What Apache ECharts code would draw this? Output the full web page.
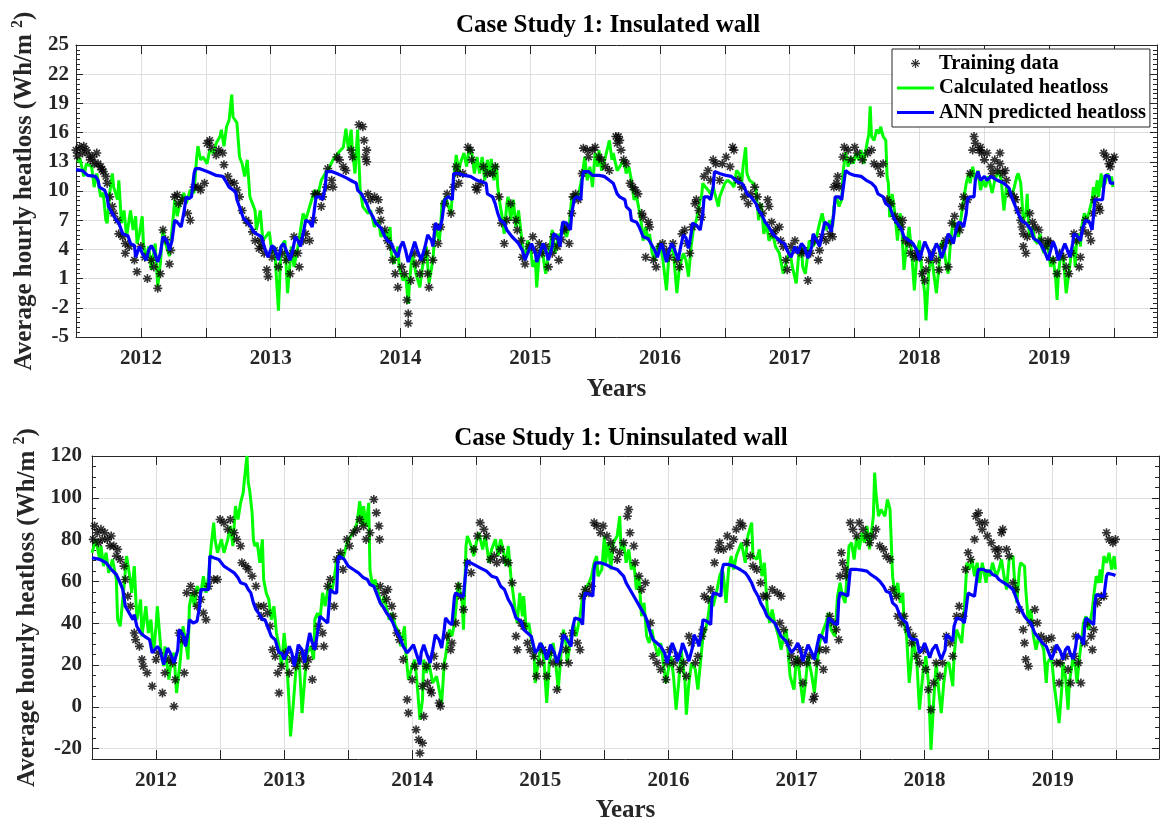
<!DOCTYPE html>
<html>
<head>
<meta charset="utf-8">
<script src="https://cdn.jsdelivr.net/npm/echarts@6/dist/echarts.min.js"></script>
<style>
  html, body { margin: 0; background: #fff; }
  #chart { width: 1165px; height: 820px; }
</style>
</head>
<body>
<div id="chart"></div>
<script>
// ===== tick labels =====
const yearLabels = [2012, 2013, 2014, 2015, 2016, 2017, 2018, 2019];
const halfYearTicks = [2012, 2012.5, 2013, 2013.5, 2014, 2014.5, 2015, 2015.5, 2016, 2016.5, 2017, 2017.5, 2018, 2018.5, 2019, 2019.5];
const insTicks = [-5, -2, 1, 4, 7, 10, 13, 16, 19, 22, 25];
const uninsTicks = [-20, 0, 20, 40, 60, 80, 100, 120];

// ===== Case 1: insulated wall, [year, Wh/m2] =====
const insCalc = [
  [2011.51,13.0],[2011.53,13.4],[2011.56,11.5],[2011.58,12.8],[2011.62,12.5],[2011.64,10.4],[2011.66,11.8],[2011.69,9.4],[2011.71,9.8],[2011.73,7.0],[2011.74,6.7],[2011.76,9.8],[2011.78,11.8],[2011.79,10.4],[2011.82,9.1],[2011.83,11.1],[2011.85,6.7],[2011.87,8.0],[2011.89,5.3],[2011.92,8.0],[2011.94,6.0],[2011.96,7.4],[2011.97,4.6],[2011.99,5.7],[2012.01,7.4],[2012.02,4.6],[2012.04,2.9],[2012.06,4.3],[2012.08,1.9],[2012.11,4.6],[2012.13,0.2],[2012.15,2.6],[2012.17,6.0],[2012.19,4.6],[2012.22,3.3],[2012.25,7.4],[2012.26,9.1],[2012.28,7.4],[2012.30,8.7],[2012.33,9.8],[2012.35,8.7],[2012.38,10.1],[2012.41,9.8],[2012.43,13.5],[2012.44,14.6],[2012.46,13.2],[2012.48,13.5],[2012.51,12.8],[2012.53,14.2],[2012.56,13.9],[2012.58,14.9],[2012.61,15.6],[2012.62,16.3],[2012.64,14.6],[2012.66,16.6],[2012.68,17.3],[2012.70,19.9],[2012.71,17.6],[2012.74,17.0],[2012.76,13.5],[2012.78,12.8],[2012.80,11.5],[2012.82,13.2],[2012.83,13.4],[2012.84,9.4],[2012.86,8.7],[2012.88,8.0],[2012.89,6.0],[2012.92,8.0],
  [2012.94,4.9],[2012.99,5.8],[2013.01,3.6],[2013.03,4.3],[2013.06,-2.3],[2013.08,4.3],[2013.11,4.9],[2013.13,-0.5],[2013.16,4.3],[2013.18,2.2],[2013.21,4.3],[2013.25,7.7],[2013.27,7.0],[2013.30,8.4],[2013.34,10.1],[2013.36,9.4],[2013.39,11.1],[2013.42,11.8],[2013.44,12.1],[2013.48,13.2],[2013.52,13.9],[2013.56,14.5],[2013.58,16.4],[2013.60,14.2],[2013.62,16.3],[2013.63,14.2],[2013.65,11.8],[2013.67,16.3],[2013.69,10.1],[2013.71,8.4],[2013.75,7.7],[2013.77,8.0],[2013.80,6.3],[2013.83,7.0],[2013.85,5.3],[2013.88,6.0],[2013.90,4.9],[2013.92,6.3],[2013.93,3.6],[2013.95,2.5],[2013.98,4.3],[2013.99,2.2],[2014.02,0.8],[2014.04,1.5],[2014.06,-1.6],[2014.07,0.5],[2014.09,3.6],[2014.12,1.5],[2014.15,0.1],[2014.17,2.2],[2014.20,4.3],[2014.22,0.5],[2014.25,2.9],[2014.27,6.3],
  [2014.30,4.9],[2014.31,6.3],[2014.32,8.7],[2014.35,9.4],[2014.37,8.4],[2014.39,7.7],[2014.40,9.8],[2014.41,11.1],[2014.43,13.7],[2014.45,11.8],[2014.46,12.8],[2014.49,13.9],[2014.51,12.5],[2014.53,14.5],[2014.55,13.9],[2014.57,11.8],[2014.59,13.5],[2014.61,11.8],[2014.63,13.5],[2014.65,11.1],[2014.67,13.2],[2014.69,11.5],[2014.70,13.3],[2014.72,11.1],[2014.74,12.8],[2014.75,10.4],[2014.77,8.4],[2014.78,7.7],[2014.80,5.6],[2014.82,8.7],[2014.83,9.4],[2014.85,7.0],[2014.87,9.1],[2014.89,6.3],[2014.91,8.0],[2014.93,5.6],[2014.94,4.3],[2014.96,2.9],[2014.98,4.9],[2015.00,4.3],[2015.02,2.2],[2015.04,2.9],[2015.05,0.1],[2015.07,3.6],[2015.09,4.6],[2015.11,2.2],[2015.12,1.5],[2015.14,3.6],[2015.16,4.9],[2015.17,6.0],[2015.19,3.6],[2015.22,5.6],[2015.23,4.9],[2015.25,6.7],[2015.27,5.6],[2015.28,5.3],[2015.30,6.3],[2015.32,9.4],[2015.34,9.1],[2015.35,9.7],[2015.37,9.4],[2015.40,11.5],[2015.42,13.5],[2015.44,11.1],[2015.46,12.5],[2015.48,10.4],[2015.50,13.9],[2015.52,12.5],[2015.53,14.2],[2015.55,12.1],[2015.58,13.5],[2015.61,15.2],[2015.63,13.2],[2015.64,13.9],[2015.67,12.1],
  [2015.69,12.5],[2015.72,13.2],[2015.74,11.8],[2015.76,12.5],[2015.78,11.1],[2015.80,9.1],[2015.82,9.4],[2015.84,8.0],[2015.86,6.3],[2015.87,4.9],[2015.89,6.3],[2015.91,4.9],[2015.92,5.6],[2015.94,3.6],[2015.96,2.9],[2015.98,4.3],[2016.00,4.6],[2016.02,3.2],[2016.05,-0.2],[2016.07,3.6],[2016.10,4.3],[2016.13,-0.5],[2016.15,2.2],[2016.18,3.6],[2016.20,2.9],[2016.22,1.2],[2016.24,4.3],[2016.26,6.3],[2016.28,7.0],[2016.31,9.1],[2016.32,9.4],[2016.33,10.8],[2016.35,10.4],[2016.37,10.1],[2016.39,9.7],[2016.41,10.4],[2016.43,9.4],[2016.45,8.4],[2016.46,9.4],[2016.48,10.1],[2016.50,10.8],[2016.52,11.1],[2016.55,10.8],[2016.57,10.4],[2016.59,12.1],[2016.61,11.8],[2016.63,10.8],[2016.64,12.5],[2016.66,14.5],[2016.67,11.8],[2016.69,11.1],[2016.72,10.8],[2016.74,10.1],[2016.76,7.0],[2016.78,8.7],[2016.80,5.6],[2016.82,6.7],[2016.84,4.9],[2016.87,5.6],[2016.89,4.3],[2016.92,3.6],[2016.95,1.5],[2016.97,2.5],[2017.00,3.9],[2017.02,2.2],[2017.05,0.5],
  [2017.07,3.6],[2017.09,4.3],[2017.10,2.2],[2017.12,1.5],[2017.14,3.6],[2017.15,4.9],[2017.18,4.3],[2017.20,4.9],[2017.23,6.7],[2017.25,7.7],[2017.27,6.3],[2017.28,6.0],[2017.31,7.0],[2017.33,6.3],[2017.34,8.4],[2017.36,9.4],[2017.38,8.4],[2017.40,9.1],[2017.41,11.8],[2017.43,14.0],[2017.45,12.5],[2017.47,13.5],[2017.49,12.8],[2017.51,13.9],[2017.53,13.2],[2017.55,14.2],[2017.57,12.8],[2017.59,14.5],[2017.61,15.9],[2017.62,18.7],[2017.63,15.6],[2017.65,15.2],[2017.67,16.3],[2017.69,15.9],[2017.70,16.6],[2017.72,15.6],[2017.74,15.2],[2017.75,11.5],[2017.76,10.8],[2017.77,7.3],[2017.79,9.7],[2017.81,7.7],[2017.83,4.9],[2017.85,7.7],[2017.86,7.0],[2017.88,1.9],[2017.90,4.3],[2017.92,6.3],[2017.94,3.6],[2017.96,-0.2],[2017.98,3.6],[2018.00,4.9],[2018.02,1.5],[2018.04,-0.5],[2018.05,-3.3],[2018.07,1.5],[2018.09,3.6],[2018.11,1.5],[2018.13,-0.5],[2018.15,2.2],[2018.16,4.3],[2018.18,4.9],[2018.20,2.9],[2018.22,1.5],[2018.24,4.9],[2018.26,7.0],[2018.28,6.3],[2018.30,5.3],[2018.32,7.3],[2018.34,9.1],[2018.36,10.8],[2018.38,11.8],[2018.39,10.8],[2018.41,12.5],[2018.43,11.1],[2018.45,12.1],
  [2018.47,10.1],[2018.49,11.1],[2018.51,10.4],[2018.53,11.5],[2018.56,9.8],[2018.58,11.1],[2018.61,12.1],[2018.63,11.1],[2018.65,8.0],[2018.67,10.4],[2018.69,9.7],[2018.71,9.4],[2018.73,10.4],[2018.75,11.5],[2018.76,11.8],[2018.78,10.8],[2018.80,7.0],[2018.82,7.7],[2018.83,9.7],[2018.84,6.3],[2018.85,5.3],[2018.87,6.3],[2018.89,4.9],[2018.91,4.6],[2018.93,5.6],[2018.94,4.3],[2018.96,3.6],[2018.98,4.9],[2018.99,4.3],[2019.01,2.2],[2019.03,3.2],[2019.05,0.8],[2019.06,-1.2],[2019.07,1.5],[2019.09,3.6],[2019.11,2.9],[2019.13,-0.5],[2019.15,1.5],[2019.17,3.6],[2019.19,4.3],[2019.20,2.2],[2019.21,4.9],[2019.23,5.6],[2019.24,4.3],[2019.25,6.3],[2019.27,7.7],[2019.29,7.0],[2019.31,8.0],[2019.33,9.1],[2019.34,10.4],[2019.35,9.4],[2019.37,11.1],[2019.38,9.4],[2019.40,11.8],[2019.41,10.4],[2019.43,10.8],[2019.45,11.8],[2019.47,11.1],[2019.48,11.5],[2019.49,10.4]
];
const insAnn = [
  [2011.50,12.2],[2011.55,12.1],[2011.59,11.6],[2011.65,11.5],[2011.67,11.1],[2011.68,10.4],[2011.72,10.1],[2011.74,9.4],[2011.75,8.4],[2011.78,7.7],[2011.81,7.0],[2011.83,6.7],[2011.86,5.6],[2011.90,5.4],[2011.92,4.6],[2011.95,4.4],[2011.96,3.2],[2011.99,4.3],[2012.01,3.6],[2012.04,2.9],[2012.06,3.9],[2012.08,4.4],[2012.10,3.9],[2012.13,2.7],[2012.15,3.6],[2012.17,5.3],[2012.20,4.9],[2012.22,3.9],[2012.24,4.9],[2012.26,7.0],[2012.28,6.8],[2012.31,6.3],[2012.33,7.7],[2012.35,9.4],[2012.37,9.2],[2012.39,9.4],[2012.41,11.8],[2012.42,12.3],[2012.45,12.3],[2012.49,12.1],[2012.53,11.9],[2012.58,11.6],[2012.63,11.5],[2012.65,11.1],[2012.68,10.4],[2012.71,10.1],[2012.73,9.9],[2012.74,9.1],[2012.77,8.0],[2012.79,7.2],[2012.82,6.8],[2012.85,6.3],[2012.87,5.8],
  [2012.89,5.6],[2012.93,5.3],[2012.95,4.3],[2012.98,3.2],[2013.01,4.4],[2013.03,4.1],[2013.06,2.9],[2013.08,4.3],[2013.10,4.6],[2013.12,3.9],[2013.15,2.9],[2013.17,3.9],[2013.19,5.3],[2013.21,4.9],[2013.23,4.3],[2013.25,5.6],[2013.27,7.0],[2013.30,6.8],[2013.32,6.3],[2013.34,8.4],[2013.35,9.4],[2013.38,9.4],[2013.40,9.1],[2013.42,10.4],[2013.43,12.0],[2013.47,12.0],[2013.51,11.8],[2013.56,11.5],[2013.59,11.3],[2013.63,11.0],[2013.66,10.8],[2013.67,10.1],[2013.70,9.7],[2013.74,8.7],[2013.76,8.0],[2013.79,7.3],[2013.81,6.7],[2013.85,6.2],[2013.88,5.3],[2013.90,4.9],[2013.93,4.6],[2013.95,3.9],[2013.98,3.2],[2014.00,4.3],[2014.02,4.8],[2014.04,3.9],[2014.06,2.7],[2014.09,3.9],[2014.11,4.8],[2014.13,3.9],[2014.16,2.9],[2014.19,4.3],[2014.21,5.5],[2014.24,4.9],[2014.25,4.3],[2014.27,6.7],
  [2014.30,6.0],[2014.32,7.0],[2014.34,9.1],[2014.37,9.4],[2014.40,9.1],[2014.41,11.8],[2014.45,11.8],[2014.49,11.6],[2014.54,11.5],[2014.59,11.1],[2014.66,10.8],[2014.67,9.7],[2014.71,9.4],[2014.73,8.7],[2014.75,7.7],[2014.77,7.0],[2014.80,6.7],[2014.82,6.0],[2014.86,5.3],[2014.89,4.9],[2014.91,4.6],[2014.94,3.9],[2014.96,2.9],[2014.98,3.6],[2015.01,4.6],[2015.04,3.6],[2015.05,2.7],[2015.08,3.9],[2015.10,4.6],[2015.12,3.9],[2015.14,2.9],[2015.17,4.3],[2015.18,5.6],[2015.21,5.3],[2015.23,4.3],[2015.24,5.6],[2015.25,6.8],[2015.28,6.7],[2015.31,6.0],[2015.32,7.7],[2015.34,9.2],[2015.36,9.4],[2015.39,9.1],[2015.40,11.1],[2015.41,12.0],[2015.45,12.0],[2015.48,11.6],[2015.53,11.6],[2015.57,11.5],[2015.61,11.1],[2015.64,10.8],[2015.67,9.7],
  [2015.69,9.4],[2015.73,9.1],[2015.74,8.4],[2015.77,8.0],[2015.78,7.0],[2015.82,6.8],[2015.84,6.3],[2015.87,5.3],[2015.91,5.1],[2015.93,4.6],[2015.96,3.9],[2015.98,3.2],[2016.01,4.6],[2016.02,4.3],[2016.05,2.7],[2016.07,3.9],[2016.09,4.6],[2016.11,4.1],[2016.14,2.9],[2016.16,4.3],[2016.18,5.5],[2016.20,5.2],[2016.22,4.1],[2016.24,5.6],[2016.25,6.7],[2016.28,6.5],[2016.31,6.0],[2016.33,7.7],[2016.34,9.4],[2016.37,9.4],[2016.39,9.1],[2016.41,10.4],[2016.42,12.0],[2016.46,11.8],[2016.51,11.6],[2016.55,11.5],[2016.60,10.9],[2016.63,10.8],[2016.65,10.4],[2016.67,9.7],[2016.70,9.4],[2016.74,8.7],[2016.76,8.0],[2016.78,7.7],[2016.81,6.8],[2016.83,6.5],[2016.87,5.6],[2016.89,5.3],[2016.93,4.8],[2016.96,4.6],[2016.98,3.9],[2017.01,3.2],[2017.04,4.3],[2017.06,3.6],
  [2017.09,4.6],[2017.11,4.3],[2017.14,3.1],[2017.17,4.3],[2017.18,5.6],[2017.21,4.9],[2017.23,4.3],[2017.25,5.6],[2017.27,6.8],[2017.30,6.5],[2017.32,5.8],[2017.34,7.7],[2017.35,9.4],[2017.38,9.4],[2017.40,9.1],[2017.42,11.1],[2017.43,12.1],[2017.46,11.8],[2017.50,11.6],[2017.55,11.5],[2017.59,11.1],[2017.63,10.8],[2017.66,10.4],[2017.68,9.7],[2017.72,9.4],[2017.74,8.7],[2017.77,8.4],[2017.80,7.3],[2017.82,6.8],[2017.86,6.1],[2017.88,5.3],[2017.92,4.9],[2017.95,4.6],[2017.98,3.9],[2018.00,2.9],[2018.02,3.9],[2018.04,4.8],[2018.07,3.9],[2018.09,2.9],[2018.11,3.9],[2018.13,4.6],[2018.15,4.1],[2018.17,3.1],[2018.20,4.3],[2018.22,5.6],[2018.24,5.3],[2018.26,4.6],[2018.28,5.9],[2018.30,6.8],[2018.32,6.7],[2018.34,6.3],[2018.36,7.7],[2018.37,9.2],[2018.39,9.4],[2018.42,9.4],[2018.43,11.1],[2018.45,12.0],
  [2018.47,11.1],[2018.50,11.5],[2018.52,11.1],[2018.55,11.5],[2018.60,11.1],[2018.65,10.8],[2018.69,10.3],[2018.71,9.4],[2018.73,8.7],[2018.76,7.7],[2018.79,6.9],[2018.82,6.7],[2018.86,6.0],[2018.88,5.1],[2018.92,4.8],[2018.94,4.4],[2018.97,3.6],[2018.99,2.9],[2019.01,3.9],[2019.03,4.8],[2019.05,4.1],[2019.07,2.9],[2019.10,3.9],[2019.12,4.6],[2019.14,3.9],[2019.16,3.2],[2019.18,4.6],[2019.19,5.6],[2019.22,5.3],[2019.24,4.9],[2019.26,6.3],[2019.28,7.0],[2019.31,6.8],[2019.33,6.0],[2019.34,7.4],[2019.35,9.1],[2019.38,9.1],[2019.41,9.1],[2019.42,10.4],[2019.43,11.6],[2019.46,11.5],[2019.47,10.8],[2019.50,10.8]
];
const insTrain = [
  [2011.50,14.2],[2011.51,13.6],[2011.53,14.5],[2011.55,13.9],[2011.56,14.6],[2011.58,14.2],[2011.60,13.7],[2011.61,13.2],[2011.63,13.5],[2011.64,12.8],[2011.66,13.9],[2011.67,12.8],[2011.69,12.5],[2011.70,12.2],[2011.71,12.0],[2011.73,11.5],[2011.74,10.8],[2011.76,9.4],[2011.78,8.4],[2011.79,7.7],[2011.82,7.0],[2011.83,5.6],[2011.86,5.3],[2011.88,4.6],[2011.88,3.6],[2011.91,4.3],[2011.95,2.9],[2011.97,1.7],[2012.00,4.3],[2012.03,3.2],[2012.05,1.0],[2012.08,2.9],[2012.10,2.2],[2012.13,0.0],[2012.15,1.5],[2012.17,6.0],[2012.19,5.0],[2012.22,2.5],[2012.23,3.9],[2012.26,9.4],[2012.28,9.6],[2012.29,8.7],[2012.32,9.1],[2012.36,7.7],[2012.38,7.0],[2012.41,10.4],[2012.44,10.4],[2012.46,10.1],[2012.49,10.8],[2012.51,14.9],[2012.53,15.2],[2012.54,14.5],[2012.58,13.7],[2012.60,14.2],[2012.63,13.9],[2012.64,12.7],[2012.67,11.5],[2012.69,10.9],[2012.72,10.8],[2012.74,10.1],[2012.76,9.4],[2012.78,8.0],[2012.81,7.0],[2012.83,6.7],[2012.86,5.8],[2012.88,4.9],[2012.91,4.1],
  [2012.92,4.9],[2012.93,4.3],[2012.95,3.6],[2012.97,1.9],[2012.98,1.2],[2013.01,3.2],[2013.03,3.9],[2013.06,2.2],[2013.09,3.6],[2013.12,2.9],[2013.15,1.5],[2013.17,3.6],[2013.18,5.3],[2013.21,3.6],[2013.22,2.2],[2013.25,4.9],[2013.27,5.6],[2013.30,4.9],[2013.33,7.0],[2013.34,9.7],[2013.36,9.7],[2013.39,8.4],[2013.40,9.4],[2013.43,10.4],[2013.44,12.3],[2013.47,11.1],[2013.48,10.4],[2013.51,13.5],[2013.53,13.2],[2013.56,12.5],[2013.58,12.1],[2013.62,14.2],[2013.63,13.5],[2013.68,16.8],[2013.71,16.6],[2013.72,15.2],[2013.73,13.5],[2013.74,14.2],[2013.74,13.0],[2013.75,9.7],[2013.77,9.1],[2013.80,9.4],[2013.83,9.1],[2013.84,8.0],[2013.85,7.0],[2013.88,6.0],[2013.90,4.9],[2013.92,4.3],[2013.94,2.9],[2013.96,1.5],[2013.98,0.1],[2014.01,2.2],[2014.03,1.5],[2014.05,-1.2],[2014.06,-2.6],[2014.06,-3.6],[2014.08,0.8],[2014.11,3.6],[2014.12,2.5],[2014.15,1.5],[2014.17,2.9],[2014.20,3.6],[2014.21,1.5],[2014.22,0.1],[2014.25,2.9],[2014.27,6.3],
  [2014.29,4.6],[2014.31,6.3],[2014.34,8.7],[2014.36,9.7],[2014.39,7.7],[2014.41,10.4],[2014.43,12.5],[2014.44,11.8],[2014.45,10.8],[2014.48,11.8],[2014.52,14.5],[2014.54,14.2],[2014.55,13.2],[2014.58,10.4],[2014.59,10.1],[2014.62,10.8],[2014.64,12.5],[2014.67,11.8],[2014.71,11.8],[2014.73,12.5],[2014.76,9.4],[2014.78,6.7],[2014.80,4.6],[2014.82,7.0],[2014.85,8.7],[2014.89,7.0],[2014.90,6.0],[2014.93,4.9],[2014.94,3.2],[2014.96,2.5],[2014.99,4.3],[2015.02,5.3],[2015.04,3.9],[2015.07,4.6],[2015.09,3.6],[2015.12,4.3],[2015.14,2.2],[2015.17,3.6],[2015.18,5.3],[2015.21,4.3],[2015.22,2.9],[2015.24,5.0],[2015.26,6.0],[2015.28,6.3],[2015.30,4.6],[2015.32,7.7],[2015.33,9.4],[2015.35,9.7],[2015.37,9.1],[2015.40,11.8],[2015.41,14.4],[2015.44,14.2],[2015.45,13.5],[2015.48,14.2],[2015.50,14.5],[2015.53,13.5],[2015.55,13.2],[2015.58,12.5],[2015.61,12.1],[2015.66,15.6],[2015.67,14.9],
  [2015.68,15.6],[2015.69,15.2],[2015.70,14.2],[2015.72,13.2],[2015.74,12.8],[2015.77,10.8],[2015.79,10.4],[2015.81,10.1],[2015.83,9.7],[2015.86,7.7],[2015.87,7.3],[2015.89,3.2],[2015.91,6.8],[2015.92,6.3],[2015.95,2.9],[2015.97,2.2],[2016.00,4.3],[2016.02,4.6],[2016.05,3.9],[2016.07,3.2],[2016.10,4.6],[2016.13,2.9],[2016.15,2.2],[2016.17,5.6],[2016.19,6.0],[2016.21,4.6],[2016.23,3.6],[2016.25,6.3],[2016.27,8.7],[2016.28,9.1],[2016.30,8.0],[2016.32,7.3],[2016.34,11.5],[2016.37,12.1],[2016.39,11.1],[2016.41,13.2],[2016.43,12.8],[2016.46,11.1],[2016.48,12.8],[2016.51,13.5],[2016.54,12.5],[2016.56,14.5],[2016.57,14.2],[2016.60,11.1],[2016.63,10.4],[2016.65,9.4],[2016.68,8.7],[2016.70,9.7],[2016.73,10.4],[2016.75,9.4],[2016.77,8.4],[2016.79,7.7],[2016.83,9.1],[2016.84,8.4],[2016.86,6.8],[2016.87,5.6],[2016.89,6.0],[2016.92,6.3],[2016.93,4.9],[2016.95,4.3],[2016.97,2.9],[2016.98,1.9],[2017.01,4.3],[2017.04,4.9],[2017.06,3.9],
  [2017.09,3.6],[2017.11,3.9],[2017.14,0.8],[2017.16,3.6],[2017.19,4.9],[2017.22,2.9],[2017.23,3.9],[2017.25,5.3],[2017.28,4.9],[2017.31,5.6],[2017.33,5.3],[2017.34,10.4],[2017.36,10.8],[2017.37,11.5],[2017.38,10.4],[2017.41,13.5],[2017.42,14.5],[2017.45,14.2],[2017.47,13.2],[2017.50,14.5],[2017.52,13.9],[2017.56,13.2],[2017.60,13.9],[2017.63,14.2],[2017.65,12.8],[2017.68,12.5],[2017.70,11.8],[2017.72,12.8],[2017.75,9.1],[2017.78,8.7],[2017.81,7.4],[2017.83,7.0],[2017.86,6.3],[2017.87,7.0],[2017.89,4.9],[2017.92,4.6],[2017.93,3.6],[2017.96,3.2],[2017.98,3.6],[2018.00,3.2],[2018.02,1.5],[2018.04,0.8],[2018.05,1.9],[2018.07,2.9],[2018.10,3.6],[2018.13,2.9],[2018.15,1.9],[2018.18,4.3],[2018.20,4.9],[2018.22,2.2],[2018.24,4.9],[2018.25,6.7],[2018.27,7.4],[2018.29,6.3],[2018.31,6.0],[2018.33,8.4],[2018.34,9.4],[2018.37,9.1],[2018.39,11.8],[2018.41,14.2],[2018.42,15.6],[2018.43,14.9],[2018.46,14.2],
  [2018.47,14.5],[2018.48,13.9],[2018.50,13.2],[2018.52,13.9],[2018.55,12.5],[2018.56,11.8],[2018.58,13.2],[2018.60,12.1],[2018.62,13.9],[2018.62,12.8],[2018.64,11.8],[2018.66,12.1],[2018.67,11.1],[2018.70,9.7],[2018.73,9.4],[2018.74,9.1],[2018.76,8.0],[2018.78,7.0],[2018.79,6.3],[2018.80,5.6],[2018.80,4.3],[2018.82,3.6],[2018.83,5.3],[2018.85,7.7],[2018.87,6.8],[2018.89,6.3],[2018.92,6.0],[2018.94,4.9],[2018.97,4.3],[2018.99,4.9],[2019.01,4.6],[2019.03,2.9],[2019.06,1.5],[2019.08,3.6],[2019.11,3.2],[2019.13,2.2],[2019.15,1.5],[2019.17,3.6],[2019.19,5.6],[2019.21,4.9],[2019.23,2.2],[2019.24,3.2],[2019.26,6.0],[2019.28,7.0],[2019.30,5.6],[2019.32,4.9],[2019.34,7.7],[2019.35,9.1],[2019.38,8.4],[2019.39,8.0],[2019.42,13.9],[2019.44,13.5],[2019.46,12.8],[2019.47,12.5],[2019.49,13.2],[2019.50,13.5]
];

// ===== Case 1: uninsulated wall, [year, Wh/m2] =====
const uninsCalc = [
  [2011.50,73.7],[2011.53,80.1],[2011.56,70.5],[2011.57,76.9],[2011.59,67.3],[2011.61,73.7],[2011.63,64.1],[2011.66,70.5],[2011.69,60.9],[2011.70,41.7],[2011.72,38.5],[2011.75,57.7],[2011.77,72.1],[2011.79,64.1],[2011.81,54.5],[2011.83,67.3],[2011.85,41.7],[2011.88,51.3],[2011.89,33.7],[2011.92,48.1],[2011.94,35.3],[2011.96,41.7],[2011.98,25.8],[2012.00,38.5],[2012.01,48.1],[2012.04,25.8],[2012.06,19.4],[2012.07,28.9],[2012.10,13.0],[2012.12,22.6],[2012.14,25.8],[2012.16,6.6],[2012.19,22.6],[2012.21,38.5],[2012.23,32.1],[2012.25,22.6],[2012.26,48.1],[2012.28,54.5],[2012.30,48.1],[2012.32,57.7],[2012.35,54.5],[2012.37,62.5],[2012.39,54.5],[2012.41,62.5],[2012.43,76.9],[2012.45,88.1],[2012.46,80.1],[2012.48,73.7],[2012.51,80.1],[2012.53,73.7],[2012.56,80.1],[2012.58,86.5],[2012.60,76.9],[2012.62,96.0],[2012.64,89.6],[2012.66,97.6],[2012.68,102.4],[2012.69,108.8],[2012.71,120.0],[2012.72,107.2],[2012.73,104.0],[2012.75,92.8],[2012.76,80.1],[2012.77,76.9],[2012.79,78.5],[2012.81,68.9],[2012.83,80.1],[2012.84,60.9],[2012.86,54.5],[2012.88,51.3],[2012.90,41.7],[2012.92,48.1],[2012.94,35.3],[2012.96,28.9],[2012.98,19.4],[2013.00,35.3],[2013.02,22.6],[2013.04,0.2],[2013.05,-14.2],[2013.07,0.2],[2013.09,16.2],[2013.11,25.8],[2013.12,19.4],[2013.14,-3.0],[2013.16,13.0],[2013.18,25.8],[2013.21,28.9],[2013.23,22.6],[2013.24,41.7],[2013.26,44.9],[2013.28,41.7],[2013.30,54.5],[2013.32,48.1],[2013.35,59.3],[2013.37,54.5],[2013.39,60.9],[2013.41,70.5],[2013.44,73.7],[2013.46,70.5],[2013.49,78.5],[2013.52,81.7],[2013.54,83.3],[2013.55,84.9],[2013.57,88.1],[2013.59,98.4],[2013.61,86.5],[2013.62,96.0],[2013.64,86.5],[2013.66,97.6],[2013.67,65.7],[2013.69,57.7],[2013.71,60.9],[2013.73,56.1],[2013.76,48.1],[2013.78,52.9],[2013.82,41.7],[2013.84,44.9],[2013.87,38.5],[2013.90,35.3],[2013.91,28.9],[2013.94,38.5],[2013.95,25.8],[2013.97,13.0],[2014.00,19.4],[2014.02,22.6],[2014.04,9.8],[2014.06,-6.2],[2014.08,3.4],[2014.09,22.6],[2014.11,16.2],[2014.13,21.0],[2014.16,11.4],[2014.19,14.6],
  [2014.21,8.2],[2014.23,1.8],[2014.25,21.0],[2014.26,24.2],[2014.29,36.9],[2014.31,33.7],[2014.33,40.1],[2014.35,52.9],[2014.36,59.3],[2014.39,49.7],[2014.40,36.9],[2014.42,76.9],[2014.43,81.7],[2014.46,76.9],[2014.48,72.1],[2014.50,78.5],[2014.52,83.3],[2014.55,75.3],[2014.57,81.7],[2014.60,68.9],[2014.62,75.3],[2014.65,80.1],[2014.67,72.1],[2014.69,80.1],[2014.71,75.3],[2014.73,67.3],[2014.75,76.9],[2014.77,62.5],[2014.79,52.9],[2014.81,43.3],[2014.82,40.1],[2014.84,54.5],[2014.86,43.3],[2014.87,52.9],[2014.89,36.9],[2014.91,40.1],[2014.93,32.1],[2014.95,27.3],[2014.96,11.4],[2014.99,24.2],[2015.01,30.5],[2015.03,21.0],[2015.05,1.8],[2015.07,21.0],[2015.10,30.5],[2015.12,21.0],[2015.14,8.2],[2015.16,24.2],[2015.18,36.9],[2015.20,30.5],[2015.21,21.0],[2015.24,33.7],[2015.26,40.1],[2015.28,33.7],[2015.31,43.3],[2015.33,52.9],[2015.35,56.1],[2015.38,59.3],[2015.40,62.5],[2015.42,68.9],[2015.44,72.1],[2015.45,62.5],[2015.48,65.7],[2015.50,81.7],[2015.51,68.9],[2015.53,78.5],[2015.55,65.7],[2015.57,78.5],[2015.60,81.7],[2015.62,91.2],[2015.63,75.3],[2015.65,78.5],[2015.67,68.9],[2015.69,75.3],[2015.71,65.7],[2015.73,68.9],[2015.75,56.1],[2015.77,62.5],[2015.79,43.3],[2015.81,49.7],[2015.83,33.7],[2015.85,30.5],[2015.87,36.9],[2015.89,30.5],[2015.92,24.2],[2015.94,30.5],[2015.96,21.0],[2015.98,11.4],[2016.00,17.8],[2016.02,24.2],[2016.04,14.6],[2016.06,-1.4],[2016.08,11.4],[2016.10,27.3],[2016.13,11.4],[2016.14,-3.8],[2016.16,11.4],[2016.18,21.0],[2016.21,17.8],[2016.23,8.2],[2016.25,21.0],[2016.27,33.7],[2016.29,36.9],[2016.31,43.3],[2016.33,52.9],[2016.35,48.1],[2016.38,56.1],[2016.40,62.5],[2016.42,65.7],[2016.43,62.5],[2016.45,49.7],[2016.47,65.7],[2016.49,72.1],[2016.51,65.7],[2016.53,72.1],[2016.55,75.3],[2016.57,78.5],[2016.60,68.9],[2016.62,81.7],[2016.65,88.1],[2016.66,72.1],[2016.69,70.5],[2016.71,75.3],[2016.73,62.5],[2016.75,68.9],[2016.77,48.1],[2016.79,40.1],[2016.81,46.5],[2016.83,40.1],[2016.86,33.7],[2016.88,27.3],[2016.90,33.7],[2016.92,36.9],[2016.95,14.6],[2016.98,8.2],
  [2017.00,24.2],[2017.02,17.8],[2017.05,1.8],[2017.07,11.4],[2017.09,24.2],[2017.12,14.6],[2017.14,6.6],[2017.16,20.9],[2017.18,30.5],[2017.21,36.9],[2017.23,40.1],[2017.25,44.9],[2017.27,36.9],[2017.30,33.7],[2017.32,52.9],[2017.34,59.3],[2017.36,52.9],[2017.38,49.7],[2017.39,59.3],[2017.41,76.9],[2017.43,78.5],[2017.45,70.5],[2017.47,81.7],[2017.49,75.3],[2017.51,83.3],[2017.53,78.5],[2017.55,86.5],[2017.57,75.3],[2017.60,91.2],[2017.61,112.0],[2017.62,102.4],[2017.64,91.2],[2017.66,94.4],[2017.69,91.2],[2017.71,99.2],[2017.73,94.4],[2017.75,62.5],[2017.77,52.9],[2017.79,59.3],[2017.81,49.7],[2017.83,54.5],[2017.84,40.1],[2017.86,33.7],[2017.88,11.4],[2017.90,24.2],[2017.91,33.7],[2017.94,21.0],[2017.96,-1.4],[2017.99,17.8],[2018.01,24.2],[2018.03,11.4],[2018.05,-20.6],[2018.07,1.8],[2018.09,21.0],[2018.11,8.2],[2018.13,-3.0],[2018.15,11.4],[2018.17,21.0],[2018.19,21.0],[2018.22,9.8],[2018.23,24.2],[2018.25,36.9],[2018.27,33.7],[2018.29,30.5],[2018.31,46.5],[2018.33,68.9],[2018.35,65.7],[2018.37,70.5],[2018.39,62.5],[2018.41,68.9],[2018.43,59.3],[2018.45,68.9],[2018.48,59.3],[2018.49,65.7],[2018.51,62.5],[2018.53,68.9],[2018.56,62.5],[2018.58,65.7],[2018.60,70.5],[2018.62,62.5],[2018.64,56.1],[2018.66,70.5],[2018.69,72.1],[2018.70,62.5],[2018.72,49.7],[2018.74,65.7],[2018.75,68.9],[2018.78,67.3],[2018.79,56.1],[2018.81,40.1],[2018.83,46.5],[2018.85,33.7],[2018.87,27.3],[2018.89,33.7],[2018.91,30.5],[2018.93,27.3],[2018.95,11.4],[2018.96,21.0],[2018.99,24.2],[2019.01,11.4],[2019.03,1.8],[2019.05,-7.8],[2019.07,8.2],[2019.08,21.0],[2019.10,14.6],[2019.12,-1.4],[2019.13,11.4],[2019.16,24.2],[2019.18,17.8],[2019.19,11.4],[2019.21,24.2],[2019.23,33.7],[2019.24,40.1],[2019.26,43.3],[2019.28,36.9],[2019.31,46.5],[2019.32,52.9],[2019.34,62.5],[2019.36,59.3],[2019.37,65.7],[2019.38,59.3],[2019.40,72.1],[2019.42,68.9],[2019.44,73.7],[2019.46,65.7],[2019.48,72.1],[2019.49,65.7]
];
const uninsAnn = [
  [2011.50,71.3],[2011.56,70.5],[2011.61,68.9],[2011.65,65.7],[2011.69,63.3],[2011.72,59.3],[2011.74,56.1],[2011.75,55.3],[2011.76,48.1],[2011.79,44.9],[2011.82,41.7],[2011.83,44.1],[2011.85,38.5],[2011.88,35.3],[2011.91,33.7],[2011.95,32.1],[2011.97,25.8],[2011.99,27.3],[2012.01,28.9],[2012.03,27.3],[2012.06,20.2],[2012.08,25.8],[2012.09,28.1],[2012.11,25.8],[2012.14,21.0],[2012.17,27.3],[2012.18,36.9],[2012.21,34.5],[2012.23,28.9],[2012.25,35.3],[2012.26,41.7],[2012.29,40.1],[2012.32,40.9],[2012.34,48.1],[2012.35,56.1],[2012.38,56.1],[2012.41,56.1],[2012.42,72.1],[2012.45,71.3],[2012.49,70.5],[2012.53,67.3],[2012.57,65.7],[2012.61,64.1],[2012.64,61.7],[2012.66,59.3],[2012.70,58.5],[2012.72,56.1],[2012.74,54.5],[2012.76,49.7],[2012.78,46.5],[2012.80,44.9],[2012.83,41.7],[2012.85,41.7],[2012.88,36.9],[2012.90,33.7],[2012.93,32.1],[2012.96,25.8],[2012.98,25.8],[2013.00,22.6],[2013.03,27.3],[2013.04,28.9],[2013.06,25.8],[2013.08,19.4],[2013.10,25.8],[2013.11,29.7],[2013.14,27.3],[2013.16,21.0],[2013.18,28.9],[2013.20,35.3],[2013.22,30.5],[2013.24,27.3],[2013.26,35.3],[2013.28,43.3],[2013.31,41.7],[2013.34,40.1],[2013.35,48.1],[2013.36,56.1],[2013.39,54.5],[2013.41,54.5],[2013.42,70.5],[2013.43,72.1],[2013.47,70.5],[2013.50,67.3],[2013.54,65.7],[2013.58,64.1],[2013.62,61.7],[2013.65,60.9],[2013.67,58.5],[2013.70,57.7],[2013.72,54.5],[2013.75,49.7],[2013.77,48.1],[2013.80,44.9],[2013.82,43.3],[2013.85,40.1],[2013.88,35.3],[2013.90,33.7],[2013.93,28.9],[2013.96,25.8],[2013.98,27.3],[2014.01,29.7],[2014.03,25.8],[2014.06,20.2],[2014.07,25.8],
  [2014.09,29.7],[2014.11,25.8],[2014.14,21.0],[2014.16,27.3],[2014.18,34.5],[2014.21,32.1],[2014.23,28.1],[2014.25,36.9],[2014.26,42.5],[2014.29,40.1],[2014.31,39.3],[2014.33,52.9],[2014.34,54.5],[2014.38,52.9],[2014.40,52.9],[2014.42,65.7],[2014.43,69.7],[2014.48,68.1],[2014.53,66.5],[2014.58,64.9],[2014.62,62.5],[2014.66,61.7],[2014.69,57.7],[2014.72,56.1],[2014.75,51.3],[2014.78,48.1],[2014.81,42.5],[2014.85,40.9],[2014.87,36.9],[2014.90,35.3],[2014.93,33.7],[2014.96,25.8],[2014.98,27.3],[2015.00,30.5],[2015.03,27.3],[2015.05,22.6],[2015.07,27.3],[2015.08,29.7],[2015.11,25.8],[2015.13,21.0],[2015.16,27.3],[2015.18,34.5],[2015.21,32.1],[2015.24,28.9],[2015.25,36.9],[2015.27,42.5],[2015.31,41.7],[2015.33,39.3],[2015.34,51.3],[2015.35,54.5],[2015.39,53.7],[2015.41,52.9],[2015.42,65.7],[2015.43,68.9],[2015.47,68.9],[2015.51,68.1],[2015.56,66.5],[2015.60,65.7],[2015.65,62.5],[2015.67,59.3],[2015.70,56.1],[2015.73,52.9],[2015.76,49.7],[2015.79,46.5],[2015.82,43.3],[2015.83,41.7],[2015.86,35.3],[2015.88,32.1],[2015.91,30.5],[2015.94,28.9],[2015.97,25.8],[2015.99,21.0],[2016.01,25.8],[2016.03,30.5],[2016.05,27.3],[2016.07,21.8],[2016.10,27.3],[2016.11,30.5],[2016.14,25.8],[2016.16,21.8],[2016.19,28.9],[2016.20,34.5],[2016.22,32.1],[2016.24,28.9],[2016.26,36.9],[2016.27,41.7],[2016.30,40.9],[2016.33,39.3],[2016.34,51.3],[2016.35,54.5],[2016.39,53.7],[2016.41,52.9],[2016.42,65.7],[2016.43,68.1],[2016.47,68.1],[2016.51,67.3],[2016.56,65.7],[2016.60,64.1],[2016.62,62.5],[2016.65,59.3],[2016.67,56.1],[2016.70,52.9],[2016.72,49.7],[2016.75,46.5],[2016.77,43.3],[2016.80,41.7],[2016.83,40.1],[2016.88,33.7],[2016.92,31.3],
  [2016.96,25.8],[2016.99,28.1],[2017.01,30.5],[2017.03,27.3],[2017.05,21.8],[2017.07,25.8],[2017.09,29.7],[2017.12,25.8],[2017.14,22.6],[2017.16,28.9],[2017.18,34.5],[2017.21,32.9],[2017.23,30.5],[2017.24,38.5],[2017.25,42.5],[2017.29,40.1],[2017.32,39.3],[2017.33,51.3],[2017.34,54.5],[2017.38,53.7],[2017.40,52.9],[2017.42,65.7],[2017.43,66.5],[2017.47,65.7],[2017.51,65.4],[2017.55,64.9],[2017.58,63.3],[2017.62,61.7],[2017.65,60.1],[2017.68,57.7],[2017.70,55.3],[2017.73,54.5],[2017.75,49.7],[2017.78,48.1],[2017.81,43.3],[2017.83,41.7],[2017.86,40.1],[2017.88,33.7],[2017.91,32.1],[2017.94,32.1],[2017.96,25.8],[2017.98,27.3],[2018.00,30.5],[2018.02,27.3],[2018.04,23.4],[2018.06,27.3],[2018.09,29.7],[2018.11,25.8],[2018.13,22.6],[2018.16,27.3],[2018.17,34.5],[2018.20,32.9],[2018.22,31.3],[2018.23,38.5],[2018.25,42.5],[2018.29,41.7],[2018.31,40.1],[2018.33,49.7],[2018.34,54.5],[2018.36,53.7],[2018.39,52.9],[2018.41,62.5],[2018.42,65.7],[2018.46,65.7],[2018.48,64.9],[2018.51,64.9],[2018.53,63.3],[2018.56,62.5],[2018.58,60.9],[2018.62,59.3],[2018.66,57.7],[2018.69,56.1],[2018.71,52.9],[2018.74,48.1],[2018.78,43.3],[2018.80,41.7],[2018.83,40.1],[2018.86,35.3],[2018.88,33.7],[2018.92,30.5],[2018.95,28.9],[2018.97,25.8],[2018.99,22.6],[2019.01,25.8],[2019.03,29.7],[2019.06,26.5],[2019.08,22.6],[2019.10,27.3],[2019.12,28.9],[2019.14,24.9],[2019.16,22.9],[2019.18,28.9],[2019.19,34.5],[2019.22,32.9],[2019.24,29.7],[2019.25,38.5],[2019.26,42.5],[2019.29,40.9],[2019.32,39.3],[2019.33,49.7],[2019.34,53.7],[2019.38,52.9],[2019.40,52.9],[2019.42,62.5],[2019.43,63.8],[2019.47,63.3],[2019.49,62.8]
];
const uninsTrain = [
  [2011.51,80.1],[2011.52,86.5],[2011.54,83.3],[2011.55,78.5],[2011.57,84.9],[2011.58,80.1],[2011.60,83.3],[2011.62,80.1],[2011.64,77.0],[2011.65,81.7],[2011.67,76.9],[2011.69,72.1],[2011.70,75.3],[2011.72,70.5],[2011.75,67.3],[2011.76,60.9],[2011.78,52.9],[2011.80,48.1],[2011.83,35.3],[2011.84,32.1],[2011.87,28.9],[2011.89,22.6],[2011.90,19.4],[2011.93,16.2],[2011.97,9.8],[2012.00,22.6],[2012.02,25.8],[2012.05,6.6],[2012.07,16.2],[2012.10,22.6],[2012.13,21.0],[2012.14,0.2],[2012.15,12.9],[2012.18,35.3],[2012.21,32.1],[2012.22,16.2],[2012.24,54.5],[2012.27,57.7],[2012.30,54.5],[2012.32,48.1],[2012.35,51.3],[2012.37,44.9],[2012.39,41.7],[2012.41,57.7],[2012.45,60.9],[2012.48,60.9],[2012.50,89.6],[2012.53,88.1],[2012.56,84.9],[2012.58,89.6],[2012.61,83.3],[2012.63,80.1],[2012.66,76.9],[2012.67,68.9],[2012.70,67.3],[2012.72,65.7],[2012.75,62.5],[2012.78,57.7],[2012.80,48.1],[2012.82,43.3],[2012.84,48.1],[2012.87,44.9],[2012.89,38.5],[2012.91,27.3],[2012.93,24.2],[2012.95,16.2],[2012.96,6.6],[2012.98,19.4],[2013.01,25.8],[2013.04,16.2],[2013.06,22.6],[2013.09,19.4],[2013.12,22.6],[2013.14,25.8],[2013.17,19.4],[2013.19,22.6],[2013.22,13.0],[2013.24,28.9],[2013.27,38.5],[2013.30,35.3],[2013.31,28.9],[2013.34,57.7],[2013.36,60.9],[2013.39,48.1],[2013.41,70.5],[2013.44,73.7],[2013.46,65.7],[2013.49,80.1],[2013.51,76.9],[2013.54,83.3],[2013.57,84.9],[2013.59,89.6],[2013.62,86.5],[2013.64,80.1],[2013.67,83.3],[2013.70,99.2],[2013.72,92.8],[2013.74,86.5],[2013.745,80.1],[2013.75,57.7],[2013.78,54.5],[2013.80,51.3],[2013.81,56.1],[2013.84,48.1],[2013.85,43.3],[2013.88,35.3],[2013.90,32.1],[2013.93,22.6],[2013.96,3.4],[2013.97,-3.0],[2014.00,12.9],[2014.02,19.4],[2014.03,-11.0],[2014.05,-15.8],[2014.06,-22.2],[2014.08,9.8],[2014.08,-17.4],[2014.09,-4.6],[2014.11,19.4],[2014.12,11.4],[2014.14,8.2],[2014.15,6.6],[2014.17,24.2],[2014.19,19.4],[2014.21,1.8],[2014.22,0.2],
  [2014.25,19.4],[2014.27,33.7],[2014.30,27.3],[2014.31,30.5],[2014.34,40.1],[2014.36,57.7],[2014.38,52.9],[2014.40,46.5],[2014.43,68.9],[2014.46,64.1],[2014.48,75.3],[2014.51,81.7],[2014.53,88.1],[2014.56,84.9],[2014.58,81.7],[2014.61,70.5],[2014.64,72.1],[2014.66,68.9],[2014.69,75.3],[2014.71,70.5],[2014.75,68.9],[2014.78,59.3],[2014.81,33.7],[2014.82,27.3],[2014.85,40.1],[2014.87,38.5],[2014.90,30.5],[2014.92,27.3],[2014.95,24.2],[2014.97,14.6],[2015.00,21.0],[2015.02,27.3],[2015.05,14.6],[2015.07,25.8],[2015.10,21.0],[2015.13,8.2],[2015.15,21.0],[2015.18,33.7],[2015.20,27.3],[2015.22,21.0],[2015.25,35.3],[2015.29,30.5],[2015.31,27.3],[2015.33,52.9],[2015.35,56.1],[2015.38,54.5],[2015.40,57.7],[2015.42,88.1],[2015.44,86.5],[2015.47,83.3],[2015.49,86.5],[2015.52,81.7],[2015.55,78.5],[2015.57,75.3],[2015.60,70.5],[2015.62,73.7],[2015.65,78.5],[2015.68,91.2],[2015.69,94.4],[2015.70,83.3],[2015.73,76.9],[2015.74,68.9],[2015.77,62.5],[2015.79,56.1],[2015.82,59.3],[2015.86,40.1],[2015.88,24.2],[2015.91,21.0],[2015.94,17.8],[2015.98,13.0],[2015.99,21.0],[2016.01,27.3],[2016.04,21.0],[2016.07,24.2],[2016.09,17.8],[2016.12,21.0],[2016.14,14.6],[2016.16,33.7],[2016.18,30.5],[2016.21,21.0],[2016.23,24.2],[2016.26,33.7],[2016.27,36.9],[2016.28,52.9],[2016.31,51.3],[2016.33,56.1],[2016.36,68.9],[2016.39,75.3],[2016.40,78.5],[2016.43,75.3],[2016.46,81.7],[2016.48,76.9],[2016.51,80.1],[2016.53,84.9],[2016.56,88.1],[2016.58,86.5],[2016.61,78.5],[2016.64,72.1],[2016.66,67.3],[2016.69,65.7],[2016.72,59.3],[2016.74,52.9],[2016.77,52.9],[2016.81,56.1],[2016.85,54.5],[2016.87,40.1],[2016.88,52.9],[2016.90,36.9],[2016.94,30.5],[2016.96,24.2],[2016.98,21.0],[2017.01,22.6],[2017.03,27.3],
  [2017.03,21.0],[2017.05,11.4],[2017.08,21.0],[2017.10,24.2],[2017.13,3.4],[2017.14,5.0],[2017.16,21.0],[2017.18,27.3],[2017.21,17.8],[2017.23,27.3],[2017.26,43.3],[2017.29,40.1],[2017.31,36.9],[2017.33,32.1],[2017.34,62.5],[2017.35,73.7],[2017.36,68.9],[2017.38,65.7],[2017.39,62.5],[2017.42,88.1],[2017.44,84.9],[2017.47,81.7],[2017.49,88.1],[2017.52,84.9],[2017.55,81.7],[2017.57,78.5],[2017.60,81.7],[2017.62,84.9],[2017.65,76.9],[2017.68,75.3],[2017.70,72.1],[2017.73,70.5],[2017.75,56.1],[2017.78,52.9],[2017.79,43.3],[2017.82,40.1],[2017.84,43.3],[2017.87,36.9],[2017.90,30.5],[2017.91,33.7],[2017.94,24.2],[2017.96,21.0],[2017.99,27.3],[2018.01,17.8],[2018.03,8.2],[2018.05,-1.4],[2018.07,11.4],[2018.09,21.0],[2018.12,14.6],[2018.14,21.0],[2018.17,33.7],[2018.20,30.5],[2018.22,24.2],[2018.25,43.3],[2018.27,48.1],[2018.30,43.3],[2018.32,65.7],[2018.34,73.7],[2018.36,70.5],[2018.39,80.1],[2018.40,91.2],[2018.42,92.8],[2018.43,88.1],[2018.45,84.9],[2018.47,88.1],[2018.49,81.7],[2018.52,78.5],[2018.55,75.3],[2018.57,72.1],[2018.58,75.3],[2018.60,83.3],[2018.61,84.9],[2018.64,75.3],[2018.66,72.1],[2018.69,59.3],[2018.71,56.1],[2018.74,46.5],[2018.77,36.9],[2018.78,30.5],[2018.79,22.6],[2018.81,19.4],[2018.83,40.1],[2018.86,46.5],[2018.88,40.1],[2018.91,33.7],[2018.95,32.1],[2018.99,32.9],[2019.01,27.3],[2019.03,21.0],[2019.05,11.4],[2019.06,21.0],[2019.10,24.2],[2019.12,17.8],[2019.14,11.4],[2019.17,24.2],[2019.18,33.7],[2019.20,21.0],[2019.22,11.4],[2019.25,30.5],[2019.27,40.1],[2019.30,33.7],[2019.31,27.3],[2019.32,36.9],[2019.35,49.7],[2019.38,52.9],[2019.40,52.9],[2019.42,83.3],[2019.44,80.1],[2019.47,78.5],[2019.49,80.1]
];

// ===== styles =====
const FONT = 'Liberation Serif';
const AXIS_COLOR = '#262626';
const GRID_COLOR = '#dedede';
const STAR = 'path://M5 0L5 10M0 5L10 5M1.5 1.5L8.5 8.5M8.5 1.5L1.5 8.5';
const STAR_LEGEND = 'path://M0 0M16 16M8 4L8 12M4 8L12 8M5.2 5.2L10.8 10.8M10.8 5.2L5.2 10.8';
const LINE_ICON = 'path://M0 0L37 0L37 3L0 3Z';

const tickFont = { fontFamily: FONT, fontWeight: 'bold', fontSize: 21, color: AXIS_COLOR };
const nameFont = { fontFamily: FONT, fontWeight: 'bold', fontSize: 25, color: AXIS_COLOR };

function yName() {
  return {
    name: '{a|Average hourly heatloss (Wh/m }{s|2}{a|)}',
    nameLocation: 'middle',
    nameTextStyle: {
      rich: {
        a: { fontFamily: FONT, fontWeight: 'bold', fontSize: 25, color: AXIS_COLOR, lineHeight: 30 },
        s: { fontFamily: FONT, fontWeight: 'bold', fontSize: 16, color: AXIS_COLOR, verticalAlign: 'top', lineHeight: 30 }
      }
    }
  };
}

function xAxes(grid, labelMargin, nameGap) {
  return [
    {
      type: 'value', gridIndex: grid, position: 'bottom', min: 2011.5, max: 2019.83,
      name: 'Years', nameLocation: 'middle', nameGap: nameGap, nameTextStyle: nameFont,
      axisLine: { show: true, onZero: false, lineStyle: { color: AXIS_COLOR, width: 1 } },
      axisTick: { show: true, inside: true, length: 9, customValues: halfYearTicks, lineStyle: { color: AXIS_COLOR } },
      axisLabel: Object.assign({ customValues: yearLabels, margin: labelMargin, formatter: v => String(Math.round(v)) }, tickFont),
      splitLine: { show: true, lineStyle: { color: GRID_COLOR, width: 1 } }
    },
    {
      type: 'value', gridIndex: grid, position: 'top', min: 2011.5, max: 2019.83,
      axisLine: { show: true, onZero: false, lineStyle: { color: AXIS_COLOR, width: 1 } },
      axisTick: { show: true, inside: true, length: 9, customValues: halfYearTicks, lineStyle: { color: AXIS_COLOR } },
      axisLabel: { show: false }, splitLine: { show: false }
    }
  ];
}

function yAxes(grid, min, max, ticks, minor, labelMargin, nameGap) {
  const common = { type: 'value', gridIndex: grid, min: min, max: max };
  return [
    Object.assign({}, common, yName(), {
      position: 'left', nameGap: nameGap,
      axisLine: { show: true, onZero: false, lineStyle: { color: AXIS_COLOR, width: 1 } },
      axisTick: { show: true, inside: true, length: 7, customValues: ticks, lineStyle: { color: AXIS_COLOR } },
      axisLabel: Object.assign({ customValues: ticks, margin: labelMargin }, tickFont),
      splitLine: { show: true, lineStyle: { color: GRID_COLOR, width: 1 } }
    }),
    Object.assign({}, common, {
      position: 'left', interval: minor,
      axisLine: { show: false }, axisLabel: { show: false }, splitLine: { show: false },
      axisTick: { show: true, inside: true, length: 4, lineStyle: { color: AXIS_COLOR } }
    }),
    Object.assign({}, common, {
      position: 'right',
      axisLine: { show: true, onZero: false, lineStyle: { color: AXIS_COLOR, width: 1 } },
      axisTick: { show: true, inside: true, length: 7, customValues: ticks, lineStyle: { color: AXIS_COLOR } },
      axisLabel: { show: false }, splitLine: { show: false }
    }),
    Object.assign({}, common, {
      position: 'right', interval: minor,
      axisLine: { show: false }, axisLabel: { show: false }, splitLine: { show: false },
      axisTick: { show: true, inside: true, length: 4, lineStyle: { color: AXIS_COLOR } }
    })
  ];
}

function panelSeries(xi, yi, train, calc, ann) {
  return [
    {
      name: 'Calculated heatloss', type: 'line', xAxisIndex: xi, yAxisIndex: yi, data: calc,
      symbol: 'none', showSymbol: false, z: 2,
      lineStyle: { color: '#00ff00', width: 3 }, itemStyle: { color: '#00ff00' }
    },
    {
      name: 'Training data', type: 'scatter', xAxisIndex: xi, yAxisIndex: yi, data: train,
      symbol: STAR, symbolSize: 9, z: 3,
      itemStyle: { color: '#000', borderColor: '#000', borderWidth: 1.6 }
    },
    {
      name: 'ANN predicted heatloss', type: 'line', xAxisIndex: xi, yAxisIndex: yi, data: ann,
      symbol: 'none', showSymbol: false, z: 4,
      lineStyle: { color: '#0000ff', width: 3.2 }, itemStyle: { color: '#0000ff' }
    }
  ];
}

const chart = echarts.init(document.getElementById('chart'), null, { renderer: 'canvas' });

const option = {
  backgroundColor: '#fff',
  animation: false,
  title: [
    { text: 'Case Study 1: Insulated wall', left: 603, top: 8, textAlign: 'center',
      textStyle: { fontFamily: FONT, fontWeight: 'bold', fontSize: 25, color: '#000' } },
    { text: 'Case Study 1: Uninsulated wall', left: 616, top: 421, textAlign: 'center',
      textStyle: { fontFamily: FONT, fontWeight: 'bold', fontSize: 25, color: '#000' } }
  ],
  legend: {
    orient: 'vertical', left: 892, top: 49,
    backgroundColor: '#fff', borderColor: AXIS_COLOR, borderWidth: 1,
    padding: [4, 4, 4, 5], itemGap: 3.5, itemWidth: 37, itemHeight: 18,
    textStyle: { fontFamily: FONT, fontWeight: 'bold', fontSize: 20.5, color: '#000' },
    data: [
      { name: 'Training data', icon: STAR_LEGEND, itemStyle: { color: '#000', borderColor: '#000', borderWidth: 1.3 } },
      { name: 'Calculated heatloss', icon: LINE_ICON, itemStyle: { color: '#00ff00', borderWidth: 0 } },
      { name: 'ANN predicted heatloss', icon: LINE_ICON, itemStyle: { color: '#0000ff', borderWidth: 0 } }
    ]
  },
  grid: [
    { left: 76, top: 45, width: 1081, height: 292, containLabel: false, outerBoundsMode: 'none' },
    { left: 92, top: 456, width: 1067, height: 303, containLabel: false, outerBoundsMode: 'none' }
  ],
  xAxis: [].concat(xAxes(0, 11, 40), xAxes(1, 11, 39)),
  yAxis: [].concat(yAxes(0, -5, 25, insTicks, 0.5, 7, 32), yAxes(1, -25, 120, uninsTicks, 5, 10, 45)),
  series: [].concat(
    panelSeries(0, 0, insTrain, insCalc, insAnn),
    panelSeries(2, 4, uninsTrain, uninsCalc, uninsAnn)
  )
};

chart.setOption(option);
window.addEventListener('resize', () => chart.resize());
</script>
</body>
</html>
